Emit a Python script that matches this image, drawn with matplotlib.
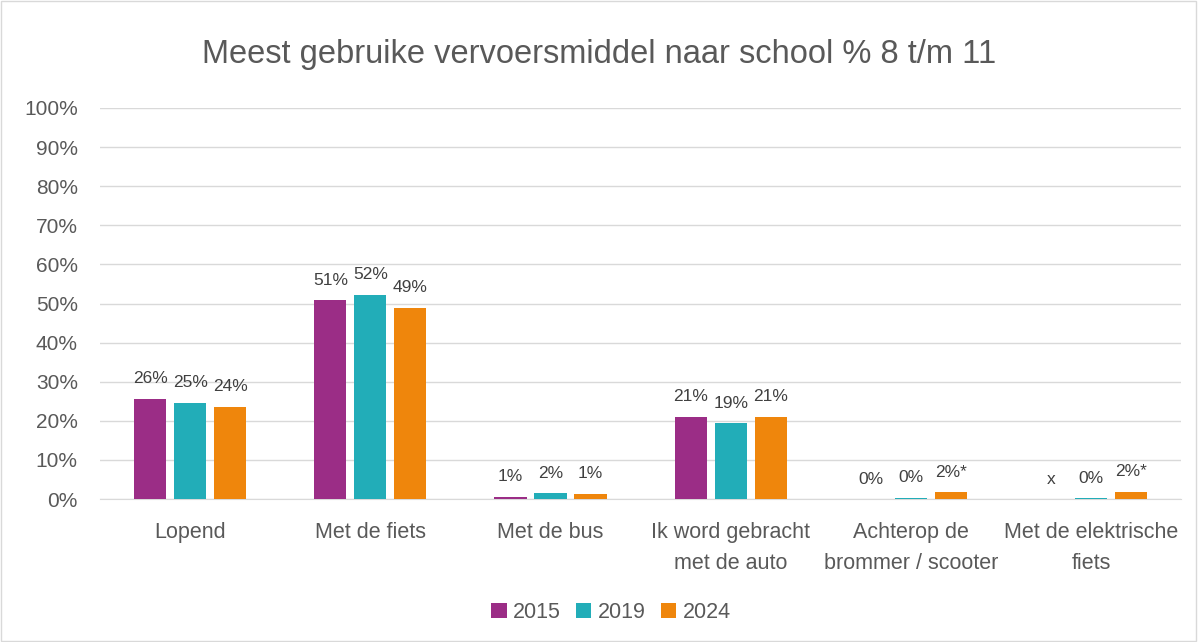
import numpy as np
import matplotlib.pyplot as plt
from matplotlib.patches import Rectangle

categories = ['Lopend', 'Met de fiets', 'Met de bus', 'Ik word gebracht\nmet de auto',
              'Achterop de\nbrommer / scooter', 'Met de elektrische\nfiets']
years = ['2015', '2019', '2024']
v2015 = [25.7, 50.8, 0.6, 21.0, 0.0, np.nan]
v2019 = [24.6, 52.3, 1.5, 19.4, 0.3, 0.2]
v2024 = [23.6, 48.9, 1.3, 21.0, 1.7, 1.8]
lab2015 = ['26%', '51%', '1%', '21%', '0%', 'x']
lab2019 = ['25%', '52%', '2%', '19%', '0%', '0%']
lab2024 = ['24%', '49%', '1%', '21%', '2%*', '2%*']
colors = ['#9B2D86', '#22ADB8', '#EF860C']

plt.rcParams['font.family'] = ['Liberation Sans', 'DejaVu Sans']

fig = plt.figure(figsize=(11.98, 6.42), dpi=100)
fig.patches.append(Rectangle((0.001, 0.002), 0.997, 0.996, transform=fig.transFigure,
                             fill=False, edgecolor='#D9D9D9', linewidth=1))
ax = fig.add_axes([0.0835, 0.2227, 0.9025, 0.6091])

x = np.arange(len(categories))
w = 0.178
off = 0.222
for i, (vals, labs) in enumerate(zip([v2015, v2019, v2024], [lab2015, lab2019, lab2024])):
    pos = x + (i - 1) * off
    heights = np.nan_to_num(np.array(vals, dtype=float))
    ax.bar(pos, heights, w, color=colors[i], label=years[i], zorder=3)
    for p, h, t in zip(pos, heights, labs):
        ax.annotate(t, (p, h), xytext=(0, 9), textcoords='offset points',
                    ha='center', va='bottom', fontsize=12.5, color='#404040')

ax.set_ylim(0, 100)
ax.set_xlim(-0.5, len(categories) - 0.5)
ax.set_yticks(np.arange(0, 101, 10))
ax.set_yticklabels([f'{t}%' for t in range(0, 101, 10)])
ax.grid(axis='y', color='#D9D9D9', linewidth=1, zorder=0)
for s in ['top', 'right', 'left']:
    ax.spines[s].set_visible(False)
ax.spines['bottom'].set_color('#D9D9D9')
ax.tick_params(axis='y', length=0, labelsize=15, labelcolor='#595959', pad=16)
ax.tick_params(axis='x', length=0, labelsize=15.5, labelcolor='#595959', pad=16.5)
ax.set_xticks(x)
ax.set_xticklabels(categories, linespacing=1.6, va='top')

fig.text(0.5, 1 - 55 / 642, 'Meest gebruike vervoersmiddel naar school % 8 t/m 11',
         ha='center', va='center', fontsize=23.5, color='#595959')
fig.legend(loc='center', bbox_to_anchor=(0.51, 0.046), ncol=3, frameon=False,
           fontsize=15.5, handlelength=0.72, handleheight=0.72, handletextpad=0.3,
           columnspacing=0.7, labelcolor='#595959')

fig.savefig('out.png', dpi=100)
